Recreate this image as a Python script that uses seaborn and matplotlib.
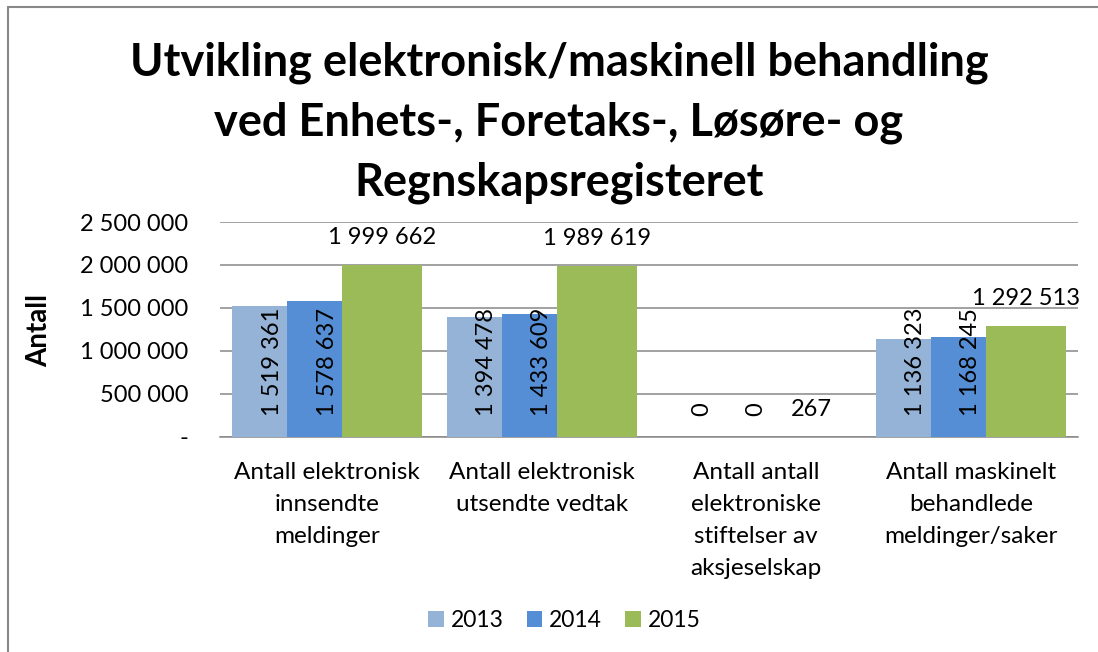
import matplotlib
matplotlib.use("Agg")
import matplotlib.pyplot as plt
import pandas as pd
import seaborn as sns

# Data
categories = [
    "Antall elektronisk\ninnsendte\nmeldinger",
    "Antall elektronisk\nutsendte vedtak",
    "Antall antall\nelektroniske\nstiftelser av\naksjeselskap",
    "Antall maskinelt\nbehandlede\nmeldinger/saker",
]
years = ["2013", "2014", "2015"]
values_2013 = [1519361, 1394478, 0, 1136323]
values_2014 = [1578637, 1433609, 0, 1168245]
values_2015 = [1999662, 1989619, 267, 1292513]
yticks = [0, 500000, 1000000, 1500000, 2000000, 2500000]

colors = ["#95B3D7", "#558ED5", "#9BBB59"]
grey = "#888888"


def fmt(v):
    return f"{v:,}".replace(",", " ")


df = pd.DataFrame({
    "kategori": categories * 3,
    "år": [y for y in years for _ in categories],
    "antall": values_2013 + values_2014 + values_2015,
})

sns.set_style("white")
plt.rcParams["font.family"] = ["Lato", "DejaVu Sans"]
plt.rcParams.update({"text.color": "black", "axes.labelcolor": "black",
                     "xtick.color": "black", "ytick.color": "black"})

fig = plt.figure(figsize=(10.98, 6.52), dpi=100)
ax = fig.add_axes([0.2004, 0.3298, 0.7814, 0.3297])

sns.barplot(data=df, x="kategori", y="antall", hue="år", palette=colors,
            saturation=1, width=0.9, ax=ax, legend=False, zorder=3)

# green bars are drawn wider than the other two in the original
rel = [0.256, 0.256, 0.373]
for i, cont in enumerate(ax.containers):
    for j, bar in enumerate(cont):
        bar.set_x(j - sum(rel) / 2 + sum(rel[:i]))
        bar.set_width(rel[i])
        bar.set_edgecolor("none")

# rotated labels for 2013 / 2014
for cont, vals in zip(ax.containers[:2], [values_2013, values_2014]):
    for bar, v in zip(cont, vals):
        ax.annotate(fmt(v), xy=(bar.get_x() + bar.get_width() / 2, 240000),
                    xytext=(9, 0), textcoords="offset points",
                    rotation=90, ha="center", va="bottom", fontsize=17, zorder=4)

ax.bar_label(ax.containers[2], labels=[fmt(v) for v in values_2015],
             padding=12, fontsize=17)

ax.set_xlim(-0.5, len(categories) - 0.5)
ax.set_ylim(0, 2500000)
ax.set_yticks(yticks)
ax.set_yticklabels(["-" if t == 0 else fmt(t) for t in yticks])
ax.tick_params(axis="y", length=0, pad=23, labelsize=17)
ax.tick_params(axis="x", length=0, pad=18, labelsize=17.5)
for lab in ax.get_xticklabels():
    lab.set_linespacing(1.65)
ax.set_xlabel("")
ax.set_ylabel("Antall", fontsize=20, fontweight="bold")
ax.yaxis.set_label_coords(-0.196, 0.493)

ax.grid(axis="y", color=grey, linewidth=1.1, zorder=0)
ax.set_axisbelow(True)
for s in ["top", "right", "left"]:
    ax.spines[s].set_visible(False)
ax.spines["bottom"].set_color(grey)
ax.spines["bottom"].set_linewidth(1.1)

fig.legend(handles=list(ax.containers), labels=years, loc="center",
           bbox_to_anchor=(0.514, 0.048), ncol=3, frameon=False, fontsize=16.5,
           handlelength=0.69, handleheight=0.69, handletextpad=0.3,
           columnspacing=1.0)

fig.text(0.509, 1 - 42 / 652,
         "Utvikling elektronisk/maskinell behandling\nved Enhets-, Foretaks-, Løsøre- og\nRegnskapsregisteret",
         ha="center", va="top", fontsize=32.5, fontweight="bold", linespacing=1.5)

# chart frame (top and left edges visible in the reference)
fig.add_artist(plt.Line2D([8 / 1098, 1], [1 - 7 / 652, 1 - 7 / 652],
                          color=grey, linewidth=1.5, transform=fig.transFigure))
fig.add_artist(plt.Line2D([8 / 1098, 8 / 1098], [0, 1 - 7 / 652],
                          color=grey, linewidth=1.5, transform=fig.transFigure))

fig.savefig("out.png", dpi=100)
